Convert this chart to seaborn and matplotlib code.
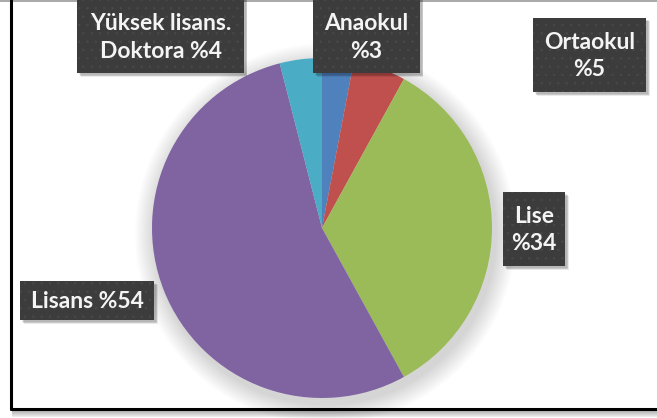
import matplotlib
matplotlib.use("Agg")
import matplotlib.pyplot as plt
import seaborn as sns
from matplotlib.patches import Rectangle, Circle
from matplotlib.lines import Line2D

# ---- data ----
categories = ["Anaokul", "Ortaokul", "Lise", "Lisans", "Yüksek lisans.\nDoktora"]
values = [3, 5, 34, 54, 4]
label_sep = ["\n", "\n", "\n", " ", " "]
slice_colors = ["#4F81BD", "#C0504D", "#9BBB59", "#8064A2", "#4BACC6"]

sns.set_theme(style="white")
plt.rcParams["font.family"] = ["Lato", "DejaVu Sans"]
plt.rcParams["hatch.linewidth"] = 0.5

W, H = 657, 418
fig = plt.figure(figsize=(W / 100, H / 100), dpi=100)
fig.patch.set_facecolor("white")

def fx(px):
    return px / W

def fy(py):
    return 1 - py / H

# pie axes: center (322, 228), radius 170 px
cx, cy, r = 322, 228, 170
ax = fig.add_axes([fx(cx - r), fy(cy + r), 2 * r / W, 2 * r / H])
ax.set_xlim(-1, 1)
ax.set_ylim(-1, 1)
ax.axis("off")

# soft shadow behind the pie
n = 14
for i in range(n):
    rr = 1.0 + 0.12 * (i + 1) / n
    ax.add_patch(Circle((0.02, -0.035), rr, facecolor="black", edgecolor="none",
                        alpha=0.011, clip_on=False, zorder=0))

ax.pie(values, colors=slice_colors, startangle=90, counterclock=False,
       radius=1, wedgeprops=dict(linewidth=0, zorder=2), frame=False)
ax.set_xlim(-1, 1)
ax.set_ylim(-1, 1)

# figure frame
fig.add_artist(Line2D([fx(0), fx(W)], [fy(0.5), fy(0.5)], color="#9a9a9a", lw=1.2))
fig.add_artist(Line2D([fx(11), fx(11)], [fy(0), fy(409)], color="black", lw=2.2))
fig.add_artist(Line2D([fx(11), fx(W)], [fy(409), fy(409)], color="black", lw=2.2))
for k in range(7):
    fig.add_artist(Rectangle((fx(12), fy(411 + k)), fx(W) - fx(12), 1 / H,
                             transform=fig.transFigure, facecolor="black",
                             edgecolor="none", alpha=0.32 - 0.04 * k))

# label boxes (x0, y0, x1, y1) in pixels
boxes = [
    (313, -4, 420, 73),
    (533, 18, 646, 92),
    (503, 192, 565, 266),
    (20, 281, 154, 320),
    (77, -4, 244, 73),
]

for name, val, sep, (x0, y0, x1, y1) in zip(categories, values, label_sep, boxes):
    # shadow
    for k in range(4):
        fig.add_artist(Rectangle((fx(x0 + 2 + k * 0.5), fy(y1 + 2 + k * 0.5)),
                                 (x1 - x0) / W, (y1 - y0) / H,
                                 transform=fig.transFigure, facecolor="black",
                                 edgecolor="none", alpha=0.08, zorder=5))
    fig.add_artist(Rectangle((fx(x0), fy(y1)), (x1 - x0) / W, (y1 - y0) / H,
                             transform=fig.transFigure, facecolor="#3c3c3c",
                             edgecolor="#494949", hatch="..", lw=0, zorder=6))
    fig.text(fx((x0 + x1) / 2), fy((max(y0, 0) + y1) / 2 + 1), f"{name}{sep}%{val}",
             ha="center", va="center", color="#f4f4f4", fontsize=16.5,
             fontweight="bold", linespacing=1.4, zorder=7)

fig.savefig("out.png", dpi=100)
